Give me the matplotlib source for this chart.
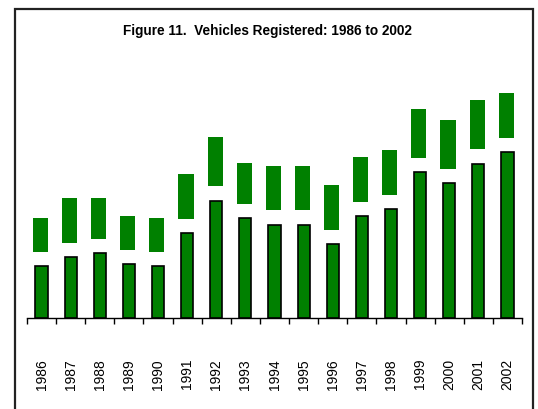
import matplotlib
matplotlib.use("Agg")
import matplotlib.pyplot as plt
from matplotlib.patches import Rectangle
import numpy as np

years = ['1986', '1987', '1988', '1989', '1990', '1991', '1992', '1993', '1994',
         '1995', '1996', '1997', '1998', '1999', '2000', '2001', '2002']
# dark bars (outlined) - no y scale on the chart, values read off in pixel-ish units
registered = [52, 61, 65, 54, 52, 85, 117, 100, 93, 93, 74, 102, 109, 146, 135, 154, 166]
# floating band above each bar
band_low = [66, 75, 79, 68, 66, 99, 132, 114, 108, 108, 88, 116, 123, 160, 149, 169, 180]
band_high = [100, 120, 120, 102, 100, 144, 181, 155, 152, 152, 133, 161, 168, 209, 198, 218, 225]

plt.rcParams['font.family'] = ['Liberation Sans', 'DejaVu Sans']

W, H = 538, 409
fig = plt.figure(figsize=(W / 100, H / 100), dpi=100)

# outer frame (bottom runs off the picture)
frame = Rectangle((15 / W, -0.05), (533 - 15) / W, (H - 8.5) / H + 0.05,
                  transform=fig.transFigure, fill=False, edgecolor='#222222', lw=1.6)
fig.patches.append(frame)

ax = fig.add_axes([27 / W, (H - 318) / H, (522 - 27) / W, 248 / H])
x = np.arange(len(years))
green = '#008000'

ax.bar(x, registered, width=0.42, color=green, edgecolor='black', linewidth=1.2, zorder=3)
heights = np.array(band_high) - np.array(band_low)
ax.bar(x - 0.04, heights, bottom=band_low, width=0.52, color=green, linewidth=0, zorder=3)

ax.set_xlim(-0.5, len(years) - 0.5)
ax.set_ylim(0, 248)

for s in ['left', 'right', 'top']:
    ax.spines[s].set_visible(False)
ax.spines['bottom'].set_linewidth(1.0)
ax.set_yticks([])

ax.set_xticks(x)
ax.set_xticklabels(years, rotation=90, fontsize=10)
ax.tick_params(axis='x', which='major', length=0, pad=29.5)
ax.set_xticks(np.arange(-0.5, len(years)), minor=True)
ax.tick_params(axis='x', which='minor', length=4.5, width=1.0, direction='out')

fig.text(267 / W, 1 - 31 / H, 'Figure 11.  Vehicles Registered: 1986 to 2002',
         ha='center', va='center', fontsize=9.8, fontweight='bold')

fig.savefig('out.png', dpi=100)
